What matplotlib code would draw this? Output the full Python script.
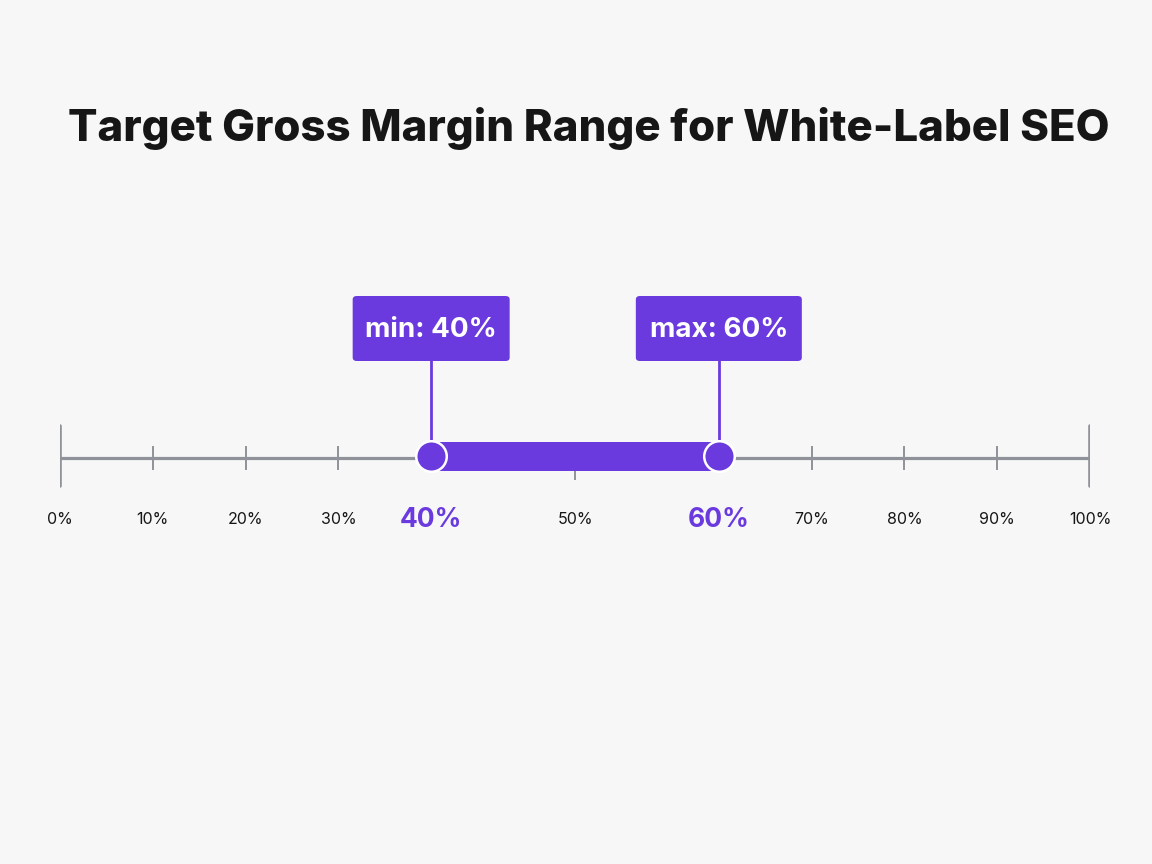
import numpy as np
import matplotlib
matplotlib.use("Agg")
import matplotlib.pyplot as plt
from matplotlib.patches import FancyBboxPatch

# ── dados ───────────────────────────────────────────────────────────
title = "Target Gross Margin Range for White-Label SEO"
axis_min, axis_max = 0, 100
tick_values = [0, 10, 20, 30, 40, 50, 60, 70, 80, 90, 100]
tick_labels = [f"{t}%" for t in tick_values]
range_min, range_max = 40, 60
range_labels = ["min: 40%", "max: 60%"]

# ── estilo ──────────────────────────────────────────────────────────
bg = "#f7f7f8"
purple = "#6a3ade"
gray = "#8f9299"
ink = "#161616"
plt.rcParams["font.family"] = ["Inter", "DejaVu Sans"]

# escala que estica a faixa alvo (destaque)
k = 1.55
def fwd(x):
    x = np.asarray(x, dtype=float)
    return x + (k - 1) * np.clip(x - range_min, 0, range_max - range_min)

def inv(y):
    y = np.asarray(y, dtype=float)
    top = range_min + (range_max - range_min) * k
    return np.where(y <= range_min, y,
                    np.where(y <= top, range_min + (y - range_min) / k,
                             y - (k - 1) * (range_max - range_min)))

W, H = 1152, 864
AX_L, AX_W = 60, 1030
fig = plt.figure(figsize=(W / 100, H / 100), dpi=100, facecolor=bg)
ax = fig.add_axes([AX_L / W, 0, AX_W / W, 1])
ax.set_facecolor(bg)
ax.set_xscale("function", functions=(fwd, inv))
ax.set_xlim(axis_min, axis_max)
ax.set_ylim(H, 0)  # y em pixels a partir do topo
ax.set_axis_off()

y_line = 458

# linha base
ax.plot([axis_min, axis_max], [y_line, y_line], color=gray, lw=2.3,
        solid_capstyle="butt", zorder=1)

# ticks
for t, lab in zip(tick_values, tick_labels):
    if t in (axis_min, axis_max):
        ax.plot([t, t], [y_line - 32, y_line + 28], color=gray, lw=2.6,
                solid_capstyle="round", zorder=1)
    else:
        ax.plot([t, t], [y_line - 11, y_line + 11 + (10 if t == 50 else 0)],
                color=gray, lw=1.4, zorder=1)
    if t in (range_min, range_max):
        continue
    ax.text(t, 520, lab, ha="center", va="center", fontsize=11.5,
            color=ink, clip_on=False)

# barra da faixa
ax.barh(y_line - 2, range_max - range_min, left=range_min, height=29,
        color=purple, zorder=3)
ax.plot([range_min, range_max], [y_line - 2, y_line - 2], "o",
        ms=22, mfc=purple, mec="white", mew=1.8, zorder=4)

# rótulos grandes das extremidades
for v in (range_min, range_max):
    ax.text(v, 520, f"{v}%", ha="center", va="center", fontsize=19,
            fontweight="bold", color=purple)

# caixas min / max
fig.canvas.draw()
box_w = {range_min: 157, range_max: 166}
box_top, box_bot = 296, 361
for v, lab in zip((range_min, range_max), range_labels):
    ax.plot([v, v], [box_bot, y_line - 18], color=purple, lw=2, zorder=2)
    xp = ax.transData.transform((v, 0))[0]
    x0 = (xp - box_w[v] / 2 - AX_L) / AX_W
    y0 = (H - box_bot) / H
    ax.add_patch(FancyBboxPatch((x0, y0), box_w[v] / AX_W, (box_bot - box_top) / H,
                                boxstyle="round,pad=0,rounding_size=0.004",
                                transform=ax.transAxes, fc=purple, ec="none",
                                zorder=5, clip_on=False))
    ax.text(v, 330, lab, ha="center", va="center", fontsize=20,
            fontweight="bold", color="white", zorder=6)

fig.text(589 / W, 1 - 128 / H, title, ha="center", va="center",
         fontsize=31.5, fontweight="heavy", color=ink)

fig.savefig("out.png", dpi=100, facecolor=bg)
